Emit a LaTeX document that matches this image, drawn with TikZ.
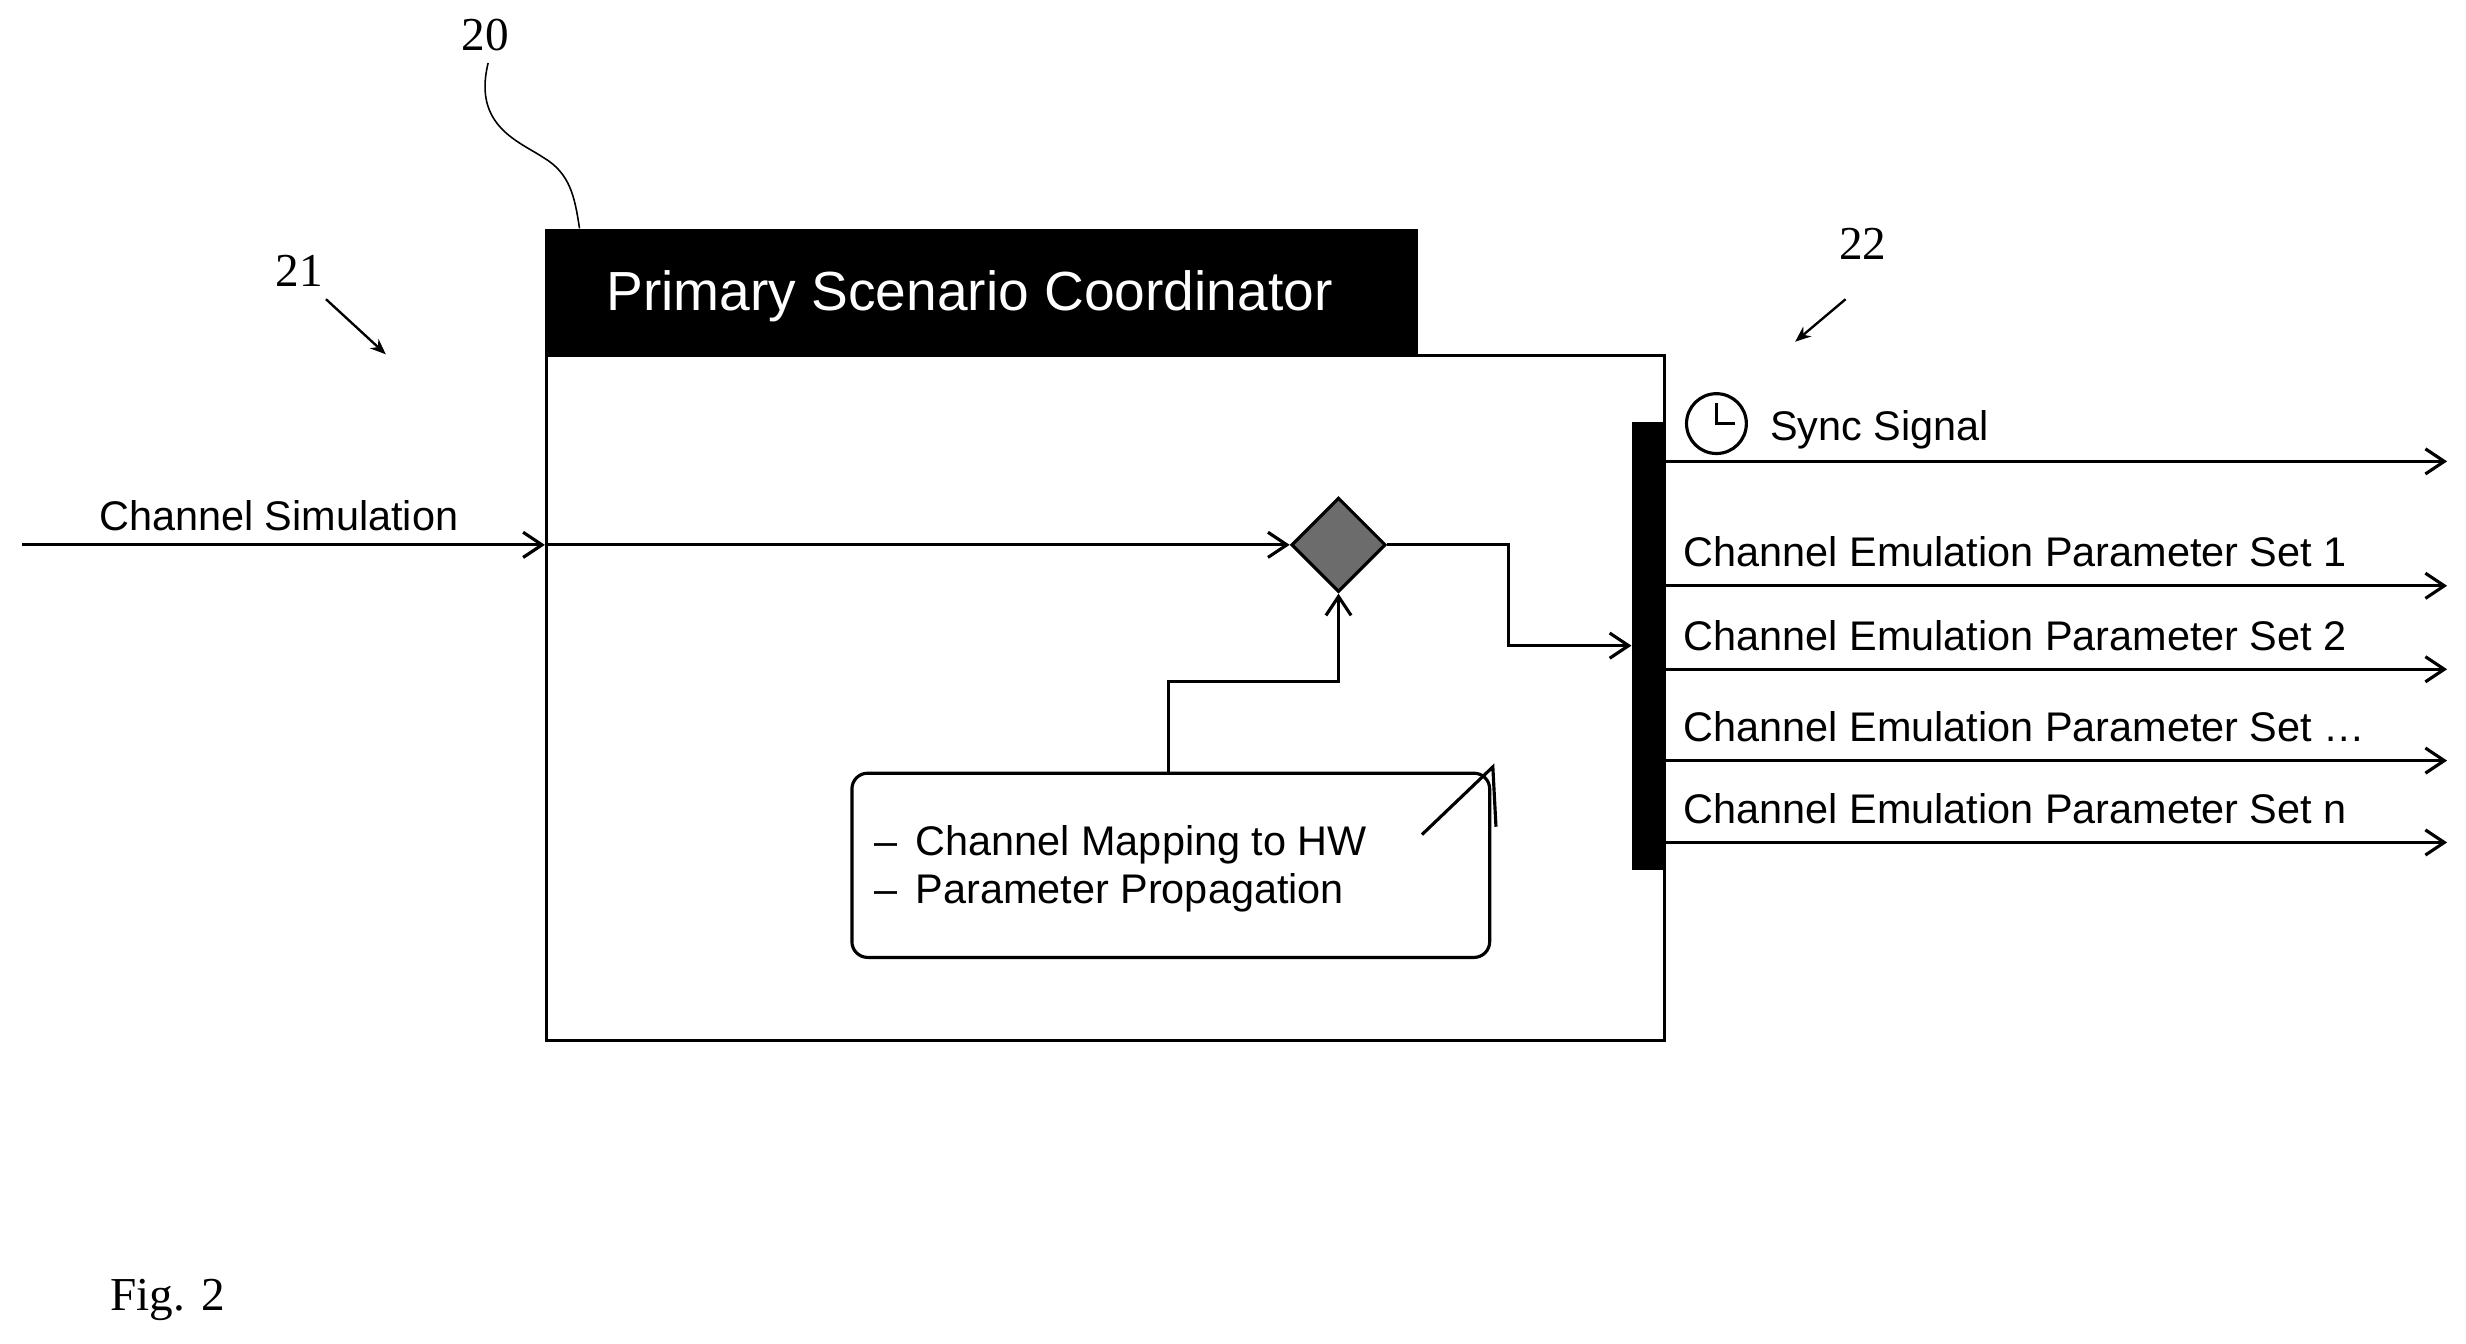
\documentclass[tikz,border=0pt]{standalone}
\usepackage{fontspec}
\setmainfont{Liberation Serif}
\setsansfont{Liberation Sans}
\usetikzlibrary{arrows.meta,shapes.geometric}
\begin{document}
\begin{tikzpicture}[x=1pt,y=-1pt,
  ln/.style={line width=2pt},
  ar/.style={ln,-{Straight Barb[length=12pt,width=16pt,line width=2pt]}},
  lab/.style={font=\sffamily\fontsize{26.3}{30}\selectfont,inner sep=0pt},
  num/.style={font=\fontsize{30}{34}\selectfont,inner sep=0pt}]
\useasboundingbox (0,0) rectangle (1566,853);
% title and main box
\node[fill=black,minimum width=554pt,minimum height=80pt,anchor=north west,inner sep=0pt] (title) at (346,145) {};
\node[text=white,font=\sffamily\fontsize{35}{40}\selectfont,inner sep=0pt,anchor=base west] (tt) at (385,197) {Primary Scenario Coordinator};
\node[draw,ln,minimum width=710pt,minimum height=435pt,anchor=north west,inner sep=0pt] (main) at (346,225) {};
% reference numerals
\node[num] (n20) at (308,22) {20};
\node[num] (n21) at (190,172) {21};
\node[num] (n22) at (1183,155) {22};
\coordinate (c20a) at (310,40);
\coordinate (c20b) at (368,145);
\draw[line width=1pt] (c20a) .. controls (300,80) and (330,90) .. (345,100) .. controls (362,110) and (365,125) .. (c20b);
\coordinate (a21s) at (207,190); \coordinate (a21e) at (245,225);
\draw[line width=1.5pt,-{Stealth[length=10pt,width=8pt]}] (a21s) -- (a21e);
\coordinate (a22s) at (1172,190); \coordinate (a22e) at (1140,217);
\draw[line width=1.5pt,-{Stealth[length=10pt,width=8pt]}] (a22s) -- (a22e);
% input
\coordinate (inS) at (14,346);
\coordinate (inE) at (346,346);
\draw[ar] (inS) -- (inE);
\node[lab,anchor=base] (lcs) at (177,337) {Channel Simulation};
% diamond
\node[diamond,draw,ln,fill=gray!85!black,minimum width=60pt,minimum height=60pt,inner sep=0pt,aspect=1] (dia) at (850,346) {};
\draw[ar] (inE) -- (dia.west);
% bar
\node[fill=black,minimum width=20pt,minimum height=284pt,anchor=north west,inner sep=0pt] (bar) at (1036,268) {};
\draw[ar] (dia.east) -- (958,346) -- (958,410) -- (bar.west |- 0,410);
% rounded box
\node[draw,ln,rounded corners=10pt,minimum width=405pt,minimum height=117pt,anchor=north west,inner sep=0pt] (rb) at (540,490) {};
\node[lab,anchor=base west,align=left] (t1) at (555,543) {--\, Channel Mapping to HW};
\node[lab,anchor=base west] (t2) at (555,574) {--\, Parameter Propagation};
\draw[ln] (903,530) -- (948,487) -- (950,525);
\draw[ar] (rb.north -| 742,0) -- (742,433) -- (850,433) -- (dia.south);
% outputs
\foreach \y/\t/\n in {372/Channel Emulation Parameter Set 1/o1,425/Channel Emulation Parameter Set 2/o2,483/Channel Emulation Parameter Set \dots/o3,535/Channel Emulation Parameter Set n/o4}{
  \coordinate (\n s) at (1056,\y); \coordinate (\n e) at (1554,\y);
  \draw[ar] (\n s) -- (\n e);
  \node[lab,anchor=base west] at (1069,\y-12) {\t};
}
\coordinate (ss) at (1056,293); \coordinate (se) at (1554,293);
\draw[ar] (ss) -- (se);
\node[draw,ln,circle,minimum size=38pt,inner sep=0pt] (clk) at (1090,269) {};
\draw[ln] (clk.center) ++(0,-13) -- (clk.center) -- ++(12,0);
\node[lab,anchor=base west] (ls) at (1124,280) {Sync Signal};
\node[num,anchor=base west] (fig) at (70,832) {Fig. 2};
\end{tikzpicture}
\end{document}
